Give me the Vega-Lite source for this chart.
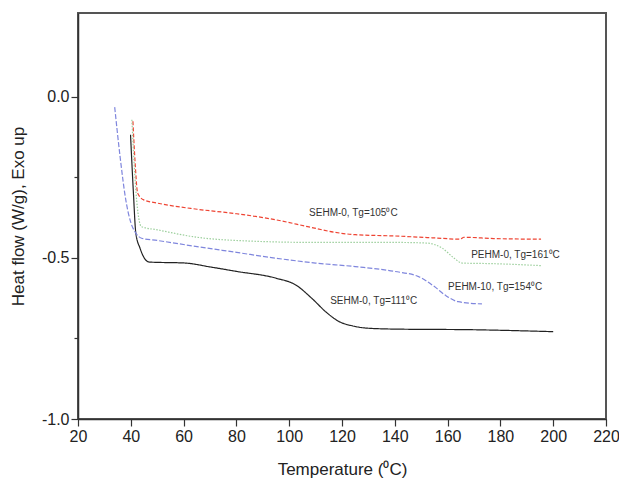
{
  "$schema": "https://vega.github.io/schema/vega-lite/v6.json",
  "width": 528,
  "height": 406,
  "autosize": {"type": "none"},
  "padding": {"left": 78, "top": 13, "right": 13, "bottom": 64},
  "background": "white",
  "config": {
    "view": {"stroke": "#555", "strokeWidth": 2},
    "font": "Liberation Sans",
    "axis": {"grid": false, "domainColor": "#333", "domainWidth": 1.5, "tickColor": "#333", "tickWidth": 1.2, "labelColor": "#222", "titleColor": "#222", "labelFont": "Liberation Sans", "titleFont": "Liberation Sans", "titleFontWeight": "normal"}
  },
  "datasets": {
    "curves": [
      {"series": "SEHM-0 (111)", "T": 39.9, "v": -0.118},
      {"series": "SEHM-0 (111)", "T": 41.0, "v": -0.30},
      {"series": "SEHM-0 (111)", "T": 41.9, "v": -0.423},
      {"series": "SEHM-0 (111)", "T": 43.5, "v": -0.47},
      {"series": "SEHM-0 (111)", "T": 45.6, "v": -0.506},
      {"series": "SEHM-0 (111)", "T": 47.1, "v": -0.513},
      {"series": "SEHM-0 (111)", "T": 60.6, "v": -0.516},
      {"series": "SEHM-0 (111)", "T": 70, "v": -0.528},
      {"series": "SEHM-0 (111)", "T": 80.1, "v": -0.542},
      {"series": "SEHM-0 (111)", "T": 95, "v": -0.563},
      {"series": "SEHM-0 (111)", "T": 102.5, "v": -0.584},
      {"series": "SEHM-0 (111)", "T": 108.5, "v": -0.625},
      {"series": "SEHM-0 (111)", "T": 114.5, "v": -0.672},
      {"series": "SEHM-0 (111)", "T": 119, "v": -0.698},
      {"series": "SEHM-0 (111)", "T": 124, "v": -0.711},
      {"series": "SEHM-0 (111)", "T": 129.5, "v": -0.718},
      {"series": "SEHM-0 (111)", "T": 140, "v": -0.721},
      {"series": "SEHM-0 (111)", "T": 170, "v": -0.723},
      {"series": "SEHM-0 (111)", "T": 200, "v": -0.729},

      {"series": "SEHM-0 (105)", "T": 40.8, "v": -0.076},
      {"series": "SEHM-0 (105)", "T": 41.6, "v": -0.20},
      {"series": "SEHM-0 (105)", "T": 42.6, "v": -0.299},
      {"series": "SEHM-0 (105)", "T": 44.9, "v": -0.32},
      {"series": "SEHM-0 (105)", "T": 50.1, "v": -0.33},
      {"series": "SEHM-0 (105)", "T": 65.1, "v": -0.349},
      {"series": "SEHM-0 (105)", "T": 80.1, "v": -0.363},
      {"series": "SEHM-0 (105)", "T": 95, "v": -0.382},
      {"series": "SEHM-0 (105)", "T": 107, "v": -0.403},
      {"series": "SEHM-0 (105)", "T": 117.5, "v": -0.421},
      {"series": "SEHM-0 (105)", "T": 125, "v": -0.428},
      {"series": "SEHM-0 (105)", "T": 140, "v": -0.432},
      {"series": "SEHM-0 (105)", "T": 155, "v": -0.438},
      {"series": "SEHM-0 (105)", "T": 164.7, "v": -0.442},
      {"series": "SEHM-0 (105)", "T": 166.2, "v": -0.436},
      {"series": "SEHM-0 (105)", "T": 177.5, "v": -0.44},
      {"series": "SEHM-0 (105)", "T": 195.4, "v": -0.442},

      {"series": "PEHM-0 (161)", "T": 40.4, "v": -0.071},
      {"series": "PEHM-0 (161)", "T": 42.0, "v": -0.30},
      {"series": "PEHM-0 (161)", "T": 44, "v": -0.403},
      {"series": "PEHM-0 (161)", "T": 50.1, "v": -0.413},
      {"series": "PEHM-0 (161)", "T": 65.1, "v": -0.436},
      {"series": "PEHM-0 (161)", "T": 80, "v": -0.446},
      {"series": "PEHM-0 (161)", "T": 110, "v": -0.452},
      {"series": "PEHM-0 (161)", "T": 140, "v": -0.452},
      {"series": "PEHM-0 (161)", "T": 152, "v": -0.454},
      {"series": "PEHM-0 (161)", "T": 158, "v": -0.47},
      {"series": "PEHM-0 (161)", "T": 162.5, "v": -0.501},
      {"series": "PEHM-0 (161)", "T": 165.5, "v": -0.516},
      {"series": "PEHM-0 (161)", "T": 177.5, "v": -0.518},
      {"series": "PEHM-0 (161)", "T": 195.4, "v": -0.524},

      {"series": "PEHM-10 (154)", "T": 33.9, "v": -0.032},
      {"series": "PEHM-10 (154)", "T": 36.0, "v": -0.19},
      {"series": "PEHM-10 (154)", "T": 38.1, "v": -0.32},
      {"series": "PEHM-10 (154)", "T": 40.0, "v": -0.39},
      {"series": "PEHM-10 (154)", "T": 41.9, "v": -0.423},
      {"series": "PEHM-10 (154)", "T": 44.1, "v": -0.439},
      {"series": "PEHM-10 (154)", "T": 50.1, "v": -0.446},
      {"series": "PEHM-10 (154)", "T": 65.1, "v": -0.465},
      {"series": "PEHM-10 (154)", "T": 80.1, "v": -0.483},
      {"series": "PEHM-10 (154)", "T": 95, "v": -0.501},
      {"series": "PEHM-10 (154)", "T": 110, "v": -0.516},
      {"series": "PEHM-10 (154)", "T": 125, "v": -0.527},
      {"series": "PEHM-10 (154)", "T": 140, "v": -0.542},
      {"series": "PEHM-10 (154)", "T": 149, "v": -0.558},
      {"series": "PEHM-10 (154)", "T": 155, "v": -0.589},
      {"series": "PEHM-10 (154)", "T": 159.5, "v": -0.618},
      {"series": "PEHM-10 (154)", "T": 164, "v": -0.636},
      {"series": "PEHM-10 (154)", "T": 173, "v": -0.643}
    ],
    "labels": [
      {"label": "SEHM-0, Tg=105⁰C", "T": 124.3, "v": -0.361},
      {"label": "PEHM-0, Tg=161⁰C", "T": 185.7, "v": -0.49},
      {"label": "PEHM-10, Tg=154⁰C", "T": 178, "v": -0.591},
      {"label": "SEHM-0, Tg=111⁰C", "T": 132, "v": -0.635}
    ]
  },
  "layer": [
    {
      "data": {"name": "curves"},
      "mark": {"type": "line", "interpolate": "monotone", "strokeWidth": 1.2},
      "encoding": {
        "x": {"field": "T", "type": "quantitative", "scale": {"domain": [20, 220], "nice": false, "zero": false},
              "axis": {"orient": "bottom", "values": [20, 30, 40, 50, 60, 70, 80, 90, 100, 110, 120, 130, 140, 150, 160, 170, 180, 190, 200, 210, 220],
                       "labelExpr": "datum.value % 20 === 0 ? datum.label : ''",
                       "tickSize": {"condition": {"test": "datum.value % 20 !== 0", "value": 4}, "value": 7},
                       "title": "Temperature (⁰C)", "labelFontSize": 16, "titleFontSize": 17, "labelPadding": 2, "titlePadding": 17, "labelFlush": false, "labelOverlap": false}},
        "y": {"field": "v", "type": "quantitative", "scale": {"domain": [-1, 0.26], "nice": false, "zero": false},
              "axis": {"orient": "left", "values": [-1, -0.75, -0.5, -0.25, 0], "format": ".1f",
                       "labelExpr": "abs(datum.value * 2 - round(datum.value * 2)) < 0.01 ? replace(datum.label, '−', '-') : ''",
                       "tickSize": {"condition": {"test": "abs(datum.value * 2 - round(datum.value * 2)) > 0.01", "value": 4}, "value": 7},
                       "title": "Heat flow (W/g), Exo up", "labelFontSize": 16, "titleFontSize": 17, "labelPadding": 2, "titlePadding": 14, "labelOverlap": false}},
        "color": {"field": "series", "type": "nominal", "legend": null,
                  "scale": {"domain": ["SEHM-0 (111)", "SEHM-0 (105)", "PEHM-0 (161)", "PEHM-10 (154)"], "range": ["#222222", "#ee4433", "#9ccf9c", "#7f86dd"]}},
        "strokeDash": {"field": "series", "type": "nominal", "legend": null,
                  "scale": {"domain": ["SEHM-0 (111)", "SEHM-0 (105)", "PEHM-0 (161)", "PEHM-10 (154)"], "range": [[1, 0], [4, 2], [1.5, 1.5], [5, 2]]}}
      }
    },
    {
      "data": {"name": "labels"},
      "mark": {"type": "text", "fontSize": 10, "font": "Liberation Sans", "color": "#333"},
      "encoding": {
        "x": {"field": "T", "type": "quantitative"},
        "y": {"field": "v", "type": "quantitative"},
        "text": {"field": "label", "type": "nominal"}
      }
    }
  ]
}
